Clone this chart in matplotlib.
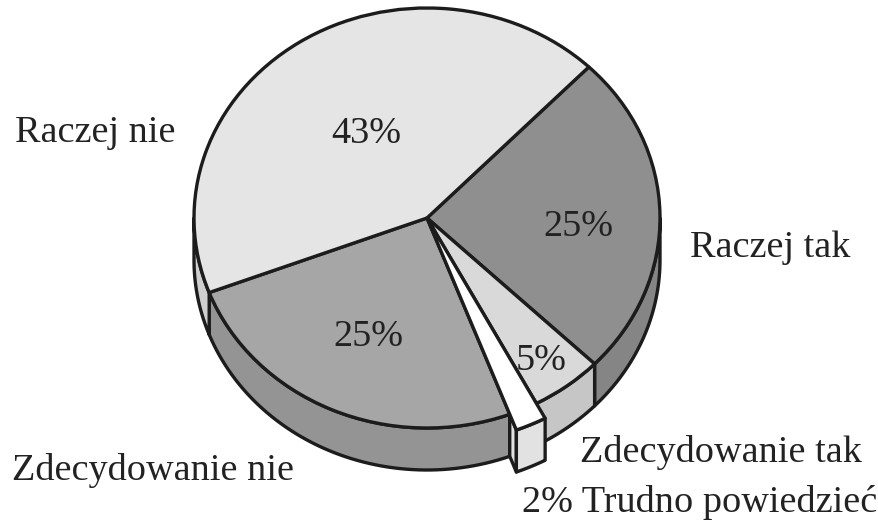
#!/usr/bin/env python3

import numpy as np
from matplotlib import pyplot as plt

W, H = 879, 524

# clockwise from the upper right
categories = ['Raczej tak', 'Zdecydowanie tak', 'Trudno powiedzieć', 'Zdecydowanie nie', 'Raczej nie']
values = [25, 5, 2, 25, 43]
top_colors = ['#8f8f8f', '#d9d9d9', '#ffffff', '#a6a6a6', '#e5e5e5']
side_colors = ['#858585', '#c6c6c6', '#e2e2e2', '#949494', '#cfcfcf']
pulled_out = 'Trudno powiedzieć'

start = 46
depth = 0.2
pull = 1.08
lw = 2.4
ink = '#1c1c1c'

# pie centre sits at px (427, 218), radii 233 x 210 px
cx, cy, rx, ry = 427, 218, 233, 210

fig = plt.figure(figsize=(W / 100, H / 100), dpi=100)
ax = fig.add_axes([0, 0, 1, 1])

wedges, _ = ax.pie(values, startangle=start, counterclock=False, colors=top_colors,
                   wedgeprops=dict(edgecolor=ink, linewidth=lw, joinstyle='round'))
for w in wedges:
    w.set_zorder(5)

# side wall, only the front half of each slice shows
angle = start
for name, v, c, w in zip(categories, values, side_colors, wedges):
    a1 = angle
    a0 = angle - v * 3.6
    angle = a0
    r = pull if name == pulled_out else 1.0
    if name == pulled_out:
        w.set_radius(pull)
        w.set_zorder(6)
        # cut face left of the pulled slice
        t = np.radians(a0)
        xs = np.array([1.0, pull, pull, 1.0]) * np.cos(t)
        ys = np.array([1.0, pull, pull, 1.0]) * np.sin(t) - np.array([0, 0, depth, depth])
        ax.fill(xs, ys, facecolor=c, edgecolor=ink, linewidth=lw, zorder=4, joinstyle='round')
    lo = max(a0, -180)
    hi = min(a1, 0)
    if hi <= lo:
        continue
    t = np.radians(np.linspace(lo, hi, 60))
    xs = np.r_[r * np.cos(t), r * np.cos(t[::-1])]
    ys = np.r_[r * np.sin(t), r * np.sin(t[::-1]) - depth]
    ax.fill(xs, ys, facecolor=c, edgecolor=ink, linewidth=lw,
            zorder=4 if name == pulled_out else 2, joinstyle='round')

ax.set_aspect('auto')
ax.set_xlim(-cx / rx, (W - cx) / rx)
ax.set_ylim((cy - H) / ry, cy / ry)
ax.axis('off')

font = dict(family='Liberation Serif', fontsize=27.5, color='#222222', va='center')

# value labels
pct_labels = ['25%', '5%', '25%', '43%']
pct_pos = [(578, 227), (541, 361), (368, 337), (366, 134)]
for s, (x, y) in zip(pct_labels, pct_pos):
    fig.text(x / W, 1 - y / H, s, ha='center', zorder=10, **font)

# names around the pie
names = ['Raczej nie', 'Raczej tak', 'Zdecydowanie nie', 'Zdecydowanie tak', '2% Trudno powiedzieć']
name_pos = [(15, 133), (690, 248), (12, 470), (580, 452), (522, 503)]
for s, (x, y) in zip(names, name_pos):
    fig.text(x / W, 1 - y / H, s, ha='left', zorder=10, **font)

fig.savefig('out.png', dpi=100, facecolor='white')
